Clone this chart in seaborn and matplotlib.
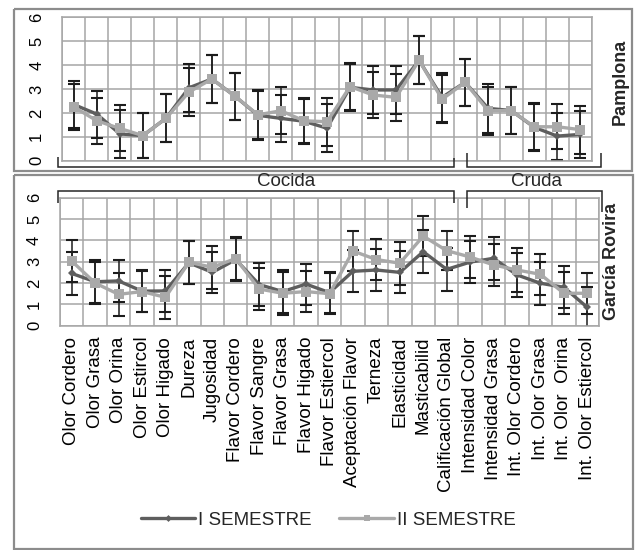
import numpy as np
import pandas as pd
import matplotlib
matplotlib.use("Agg")
import matplotlib.pyplot as plt
import seaborn as sns
from matplotlib.lines import Line2D

# ---------------- data ----------------
categories = ["Olor Cordero", "Olor Grasa", "Olor Orina", "Olor Estircol", "Olor Higado",
              "Dureza", "Jugosidad", "Flavor Cordero", "Flavor Sangre", "Flavor Grasa",
              "Flavor Higado", "Flavor Estiercol", "Aceptación Flavor", "Terneza",
              "Elasticidad", "Masticabilid", "Calificación Global", "Intensidad Color",
              "Intensidad Grasa", "Int. Olor Cordero", "Int. Olor Grasa", "Int. Olor  Orina",
              "Int. Olor Estiercol"]
series_names = ["I SEMESTRE", "II SEMESTRE"]

pam_sem1 = [2.35, 1.95, 1.12, 1.05, 1.77, 3.05, 3.42, 2.70, 1.90, 1.77, 1.65, 1.36,
            3.07, 2.96, 2.96, 4.20, 2.65, 3.28, 2.19, 2.10, 1.40, 1.03, 1.10]
pam_sem2 = [2.25, 1.67, 1.35, 1.05, 1.77, 2.87, 3.42, 2.70, 1.92, 2.09, 1.67, 1.63,
            3.10, 2.75, 2.65, 4.20, 2.57, 3.28, 2.09, 2.10, 1.42, 1.42, 1.30]
pam_sd1 = [0.97, 0.98, 1.00, 0.95, 1.00, 1.00, 1.00, 0.99, 1.02, 0.97, 0.95, 1.00,
           0.98, 1.00, 1.00, 1.00, 1.02, 0.98, 1.03, 1.00, 0.98, 0.98, 0.99]
pam_sd2 = [0.97, 0.97, 0.96, 0.95, 1.00, 1.00, 1.00, 0.99, 1.02, 0.98, 0.95, 1.00,
           0.98, 0.97, 0.97, 1.00, 1.00, 0.98, 1.00, 1.00, 0.98, 0.95, 1.00]

gr_sem1 = [2.45, 2.06, 2.10, 1.62, 1.63, 2.95, 2.50, 3.10, 1.93, 1.60, 1.95, 1.55,
           2.55, 2.61, 2.50, 3.47, 2.64, 2.98, 3.16, 2.38, 1.99, 1.80, 0.86]
gr_sem2 = [3.03, 2.00, 1.47, 1.60, 1.33, 2.97, 2.74, 3.15, 1.72, 1.52, 1.60, 1.50,
           3.50, 3.10, 2.93, 4.20, 3.52, 3.22, 2.85, 2.61, 2.41, 1.52, 1.52]
gr_sd1 = [1.00, 1.00, 0.97, 0.97, 0.99, 1.00, 0.97, 1.00, 1.00, 1.00, 0.96, 0.97,
          0.98, 0.99, 0.98, 1.00, 1.00, 0.97, 1.00, 1.05, 1.00, 0.99, 0.97]
gr_sd2 = [1.00, 1.00, 1.00, 0.97, 1.00, 1.00, 1.00, 1.00, 1.00, 1.00, 0.98, 0.97,
          0.92, 0.95, 1.00, 0.93, 0.92, 0.98, 1.00, 1.03, 0.95, 0.98, 0.95]

yticks = [0, 1, 2, 3, 4, 5, 6]
panel_names = ["Pamplona", "García Rovira"]
group_names = ["Cocida", "Cruda"]

# ---------------- style ----------------
sns.set_style("white")
plt.rcParams["font.family"] = ["Liberation Sans", "DejaVu Sans"]

W, H = 635, 550
fig = plt.figure(figsize=(W / 100, H / 100), dpi=100, facecolor="white")


def fx(x):
    return x / W


def fy(y):
    return 1 - y / H


def rect(x0, y0, x1, y1):
    return [fx(x0), fy(y1), (x1 - x0) / W, (y1 - y0) / H]


c_dark = "#5e5e5e"
c_light = "#a9a9a9"
grid_c = "#a6a6a6"
frame_c = "#8c8c8c"

ax_p = fig.add_axes(rect(62.3, 17.3, 591.7, 160.7))
ax_g = fig.add_axes(rect(60.0, 197.7, 599.0, 325.7))

n = len(categories)


def draw_panel(ax, s1, s2, sd1, sd2, show_x):
    df = pd.DataFrame({
        "category": categories * 2,
        "value": list(s1) + list(s2),
        "series": [series_names[0]] * n + [series_names[1]] * n,
    })
    pos = np.arange(n)
    ax.errorbar(pos, s1, yerr=sd1, fmt="none", ecolor="#1c1c1c", elinewidth=1.1,
                capsize=4.5, capthick=1.5, zorder=2)
    ax.errorbar(pos, s2, yerr=sd2, fmt="none", ecolor="#1c1c1c", elinewidth=1.1,
                capsize=4.5, capthick=1.5, zorder=2)
    sns.lineplot(data=df, x="category", y="value", hue="series", style="series",
                 hue_order=series_names, style_order=series_names,
                 palette={series_names[0]: c_dark, series_names[1]: c_light},
                 markers={series_names[0]: "D", series_names[1]: "s"},
                 dashes=False, sort=False, linewidth=2.4, markersize=6.5,
                 markeredgewidth=0, legend=False, ax=ax, zorder=3)
    for ln in ax.get_lines():
        if ln.get_marker() == "D":
            ln.set_markersize(4.2)
    ax.set_xlim(-0.5, n - 0.5)
    ax.set_ylim(0, 6)
    ax.set_yticks(yticks)
    ax.set_yticklabels([str(t) for t in yticks], rotation=90, va="center", fontsize=12)
    ax.set_xticks(np.arange(n))
    ax.set_xticks(np.arange(-0.5, n, 1), minor=True)
    if show_x:
        ax.set_xticklabels(categories, rotation=90, fontsize=13.5)
    else:
        ax.set_xticklabels([])
    ax.set_xlabel("")
    ax.set_ylabel("")
    ax.grid(False)
    ax.grid(which="minor", axis="x", color=grid_c, lw=1.1)
    ax.grid(which="major", axis="y", color=grid_c, lw=1.1)
    ax.tick_params(axis="both", which="both", length=0)
    ax.tick_params(axis="y", pad=13, colors="#000000")
    ax.tick_params(axis="x", pad=8, colors="#000000")
    for sp in ax.spines.values():
        sp.set_color(grid_c)
        sp.set_linewidth(1.1)
    ax.set_facecolor("white")


draw_panel(ax_p, pam_sem1, pam_sem2, pam_sd1, pam_sd2, False)
draw_panel(ax_g, gr_sem1, gr_sem2, gr_sd1, gr_sd2, True)


def fline(xs, ys, color, lw):
    fig.add_artist(Line2D([fx(x) for x in xs], [fy(y) for y in ys],
                          transform=fig.transFigure, color=color, lw=lw,
                          solid_joinstyle="miter", solid_capstyle="butt"))


# frames
fline([14, 632, 632, 14, 14], [9, 9, 171, 171, 9], frame_c, 1.6)
fline([14, 633, 633, 14, 14], [175, 175, 549, 549, 175], frame_c, 1.6)

# brackets (Pamplona, opening upward)
bc = "#262626"
fline([58, 58, 454, 454], [157, 166.5, 166.5, 158], bc, 1.1)
fline([467, 467, 601, 601], [153, 166.5, 166.5, 153], bc, 1.1)
# brackets (García Rovira, opening downward)
fline([58, 58, 454, 454], [203, 190.5, 190.5, 203], bc, 1.1)
fline([467, 467, 602, 602], [208, 190.5, 190.5, 212], bc, 1.1)

fig.text(fx(286), fy(182), group_names[0], ha="center", va="center", fontsize=13.5)
fig.text(fx(536), fy(182), group_names[1], ha="center", va="center", fontsize=13.5)

fig.text(fx(620), fy(82), panel_names[0], rotation=90, ha="center", va="center",
         fontsize=13, fontweight="bold")
fig.text(fx(611), fy(261), panel_names[1], rotation=90, ha="center", va="center",
         fontsize=13, fontweight="bold")

handles = [Line2D([], [], color=c_dark, lw=2.4, marker="D", markersize=3.5, markeredgewidth=0),
           Line2D([], [], color=c_light, lw=2.4, marker="s", markersize=5, markeredgewidth=0)]
fig.legend(handles, series_names, loc="center", bbox_to_anchor=(fx(328), fy(520)),
           ncol=2, frameon=False, fontsize=13.5, handlelength=2.9, handletextpad=0.15,
           columnspacing=1.5, borderpad=0)

fig.savefig("out.png", dpi=100, facecolor="white")
